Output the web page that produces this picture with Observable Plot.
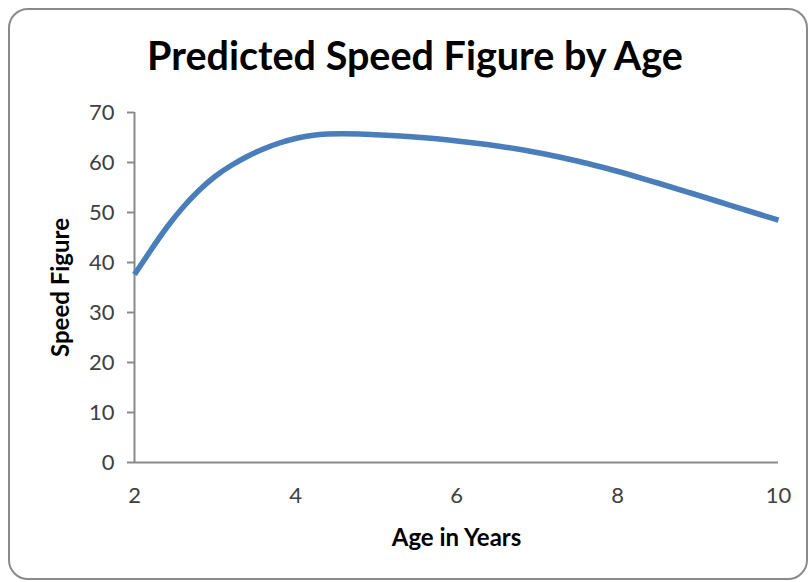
<!DOCTYPE html>
<html>
<head>
<meta charset="utf-8">
<script src="https://cdn.jsdelivr.net/npm/d3@7"></script>
<script src="https://cdn.jsdelivr.net/npm/@observablehq/plot@0.6"></script>
<style>
  html, body { margin: 0; padding: 0; background: #fff; }
  #wrap { position: relative; width: 812px; height: 582px; overflow: hidden; font-family: Lato, "Open Sans", sans-serif; }
  #frame { position: absolute; left: 8px; top: 8px; width: 800px; height: 572px; border: 2px solid #8a8a8a; border-radius: 20px; box-sizing: border-box; }
  #title { position: absolute; top: 28px; left: 0; width: 830px; text-align: center; font-weight: bold; font-size: 39.5px; color: #000; white-space: nowrap; line-height: 54px; }
  #chart { position: absolute; left: 0; top: 90px; }
</style>
</head>
<body>
<div id="wrap">
  <div id="frame"></div>
  <div id="title">Predicted Speed Figure by Age</div>
  <div id="chart"></div>
</div>
<script>
const ages = [2.0, 2.2, 2.4, 2.6, 2.8, 3.0, 3.2, 3.4, 3.6, 3.8, 4.0, 4.2, 4.4, 4.6, 4.8, 5.0, 5.3, 5.6, 5.9, 6.25, 6.55, 6.9, 7.2, 7.5, 7.8, 8.1, 8.5, 8.9, 9.3, 9.7, 10.0];
const speeds = [37.6, 42.4, 47.0, 51.0, 54.4, 57.2, 59.4, 61.2, 62.7, 63.9, 64.8, 65.4, 65.7, 65.75, 65.7, 65.55, 65.3, 64.95, 64.5, 63.85, 63.2, 62.3, 61.35, 60.3, 59.1, 57.8, 55.9, 53.95, 51.95, 49.95, 48.45];
const xTicks = [2, 4, 6, 8, 10];
const yTicks = [0, 10, 20, 30, 40, 50, 60, 70];
const xLabel = "Age in Years";
const yLabel = "Speed Figure";

const data = ages.map((a, i) => ({age: a, speed: speeds[i]}));

const chart = Plot.plot({
  width: 812,
  height: 490,
  marginLeft: 134,
  marginRight: 34,
  marginTop: 22,
  marginBottom: 118,
  style: {fontFamily: "Lato, 'Open Sans', sans-serif", background: "transparent", overflow: "visible"},
  x: {domain: [2, 10]},
  y: {domain: [0, 70]},
  marks: [
    Plot.axisY({ticks: yTicks, tickSize: 7, tickPadding: 13, fontSize: 22, stroke: "#8a8a8a", strokeWidth: 2, color: "#404040", label: null}),
    Plot.axisX({ticks: xTicks, tickSize: 0, tickPadding: 25, fontSize: 22, color: "#404040", label: null}),
    Plot.ruleX([2], {stroke: "#8a8a8a", strokeWidth: 2}),
    Plot.ruleY([0], {stroke: "#8a8a8a", strokeWidth: 2}),
    Plot.line(data, {x: "age", y: "speed", curve: "natural", stroke: "#4a7ebb", strokeWidth: 5.5, strokeLinecap: "butt"}),
    Plot.text([xLabel], {frameAnchor: "bottom", dy: 76, text: d => d, textAnchor: "middle", lineAnchor: "middle", fontWeight: "bold", fontSize: 24, fill: "#000"}),
    Plot.text([yLabel], {frameAnchor: "left", dx: -73, rotate: -90, text: d => d, textAnchor: "middle", lineAnchor: "middle", fontWeight: "bold", fontSize: 24, fill: "#000"})
  ]
});
document.getElementById("chart").appendChild(chart);
</script>
</body>
</html>
